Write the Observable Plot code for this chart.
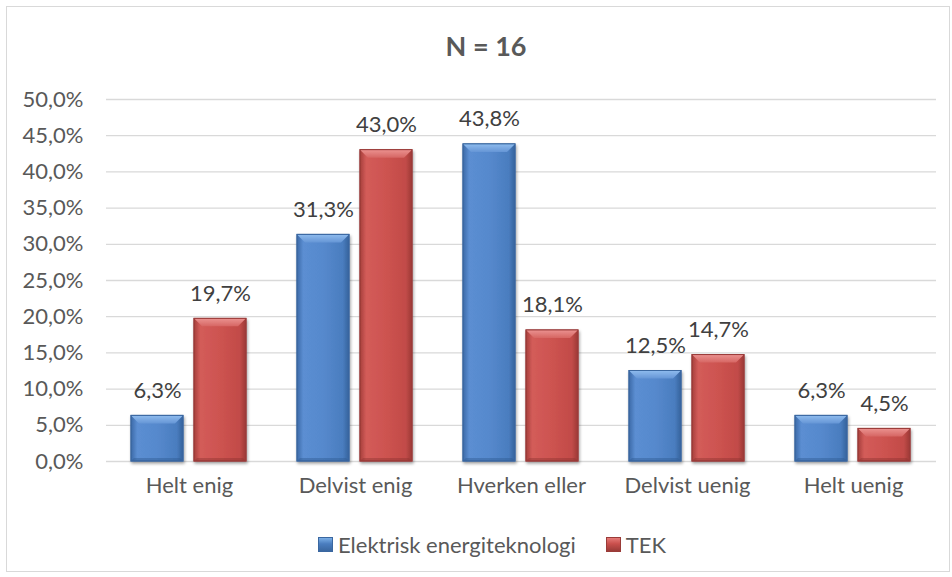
<!DOCTYPE html>
<html>
<head>
<meta charset="utf-8">
<script src="https://cdn.jsdelivr.net/npm/d3@7"></script>
<script src="https://cdn.jsdelivr.net/npm/@observablehq/plot@0.6"></script>
<style>
  body { margin: 0; background: #fff; }
  #wrap { position: relative; width: 952px; height: 577px; font-family: Lato, "Open Sans", sans-serif; color: #595959; overflow: hidden; }
  #frame { position: absolute; left: 6px; top: 6px; width: 944px; height: 566px; border: 1.5px solid #d9d9d9; box-sizing: border-box; }
  #title { position: absolute; left: 0; width: 972px; top: 29px; text-align: center; font-weight: bold; font-size: 27px; color: #595959; }
  #plot { position: absolute; left: 0; top: 0; }
  #legend { position: absolute; top: 531px; left: 318px; display: flex; align-items: center; font-size: 22px; color: #595959; }
  .sw { display: inline-block; width: 13px; height: 13px; margin-right: 5px; }
  .item { display: flex; align-items: center; margin-right: 30px; }
</style>
</head>
<body>
<div id="wrap">
  <div id="frame"></div>
  <div id="title">N = 16</div>
  <div id="plot"></div>
  <div id="legend"></div>
</div>
<script>
const categories = ["Helt enig", "Delvist enig", "Hverken eller", "Delvist uenig", "Helt uenig"];
const series = ["Elektrisk energiteknologi", "TEK"];
const elektriskValues = [6.3, 31.3, 43.8, 12.5, 6.3];
const tekValues = [19.7, 43.0, 18.1, 14.7, 4.5];
const yTicks = [0, 5, 10, 15, 20, 25, 30, 35, 40, 45, 50];
const seriesFills = ["url(#gBlue)", "url(#gRed)"];
const seriesStrokes = ["#3a67a0", "#9a3b38"];
const bevelTop = ["url(#tBlue)", "url(#tRed)"];
const bevelBottom = ["#2f5a92", "#8e3431"];

const data = [];
categories.forEach((c, i) => {
  data.push({category: c, series: series[0], value: elektriskValues[i]});
  data.push({category: c, series: series[1], value: tekValues[i]});
});

const fmt = v => v.toFixed(1).replace(".", ",") + "%";

const chart = Plot.plot({
  width: 952,
  height: 500,
  marginTop: 99,
  marginBottom: 39,
  marginLeft: 105,
  marginRight: 15,
  style: {fontFamily: "Lato, 'Open Sans', sans-serif", fontSize: "22px", color: "#595959", background: "transparent", overflow: "visible"},
  fx: {domain: categories, padding: 0, label: null, axis: "bottom", tickSize: 0, tickPadding: 16},
  x: {domain: series, paddingInner: 0.172, paddingOuter: 0.383, axis: null},
  y: {domain: [0, 50], ticks: yTicks, tickFormat: fmt, tickSize: 0, tickPadding: 23, label: null},
  marks: [
    Plot.ruleY(yTicks, {stroke: "#d9d9d9", strokeWidth: 1.3}),
    ...series.map((s, k) => Plot.barY(data.filter(d => d.series === s), {
      fx: "category", x: "series", y: "value",
      fill: seriesFills[k], stroke: seriesStrokes[k], strokeWidth: 1
    })),
    Plot.text(data, {fx: "category", x: "series", y: "value", text: d => fmt(d.value), dy: -18, lineAnchor: "bottom", fill: "#404040", fontSize: 22})
  ]
});

const defs = `
<defs>
  <linearGradient id="gBlue" x1="0" x2="1" y1="0" y2="0">
    <stop offset="0" stop-color="#3c6aa8"/>
    <stop offset="0.12" stop-color="#5b8ed2"/>
    <stop offset="0.5" stop-color="#5689cd"/>
    <stop offset="0.88" stop-color="#4a7dbf"/>
    <stop offset="1" stop-color="#36639c"/>
  </linearGradient>
  <linearGradient id="gRed" x1="0" x2="1" y1="0" y2="0">
    <stop offset="0" stop-color="#a63f3c"/>
    <stop offset="0.12" stop-color="#d35c59"/>
    <stop offset="0.5" stop-color="#cd5350"/>
    <stop offset="0.88" stop-color="#c24b48"/>
    <stop offset="1" stop-color="#9c3a37"/>
  </linearGradient>
  <linearGradient id="tBlue" x1="0" x2="0" y1="0" y2="1">
    <stop offset="0" stop-color="#8fbcee"/>
    <stop offset="1" stop-color="#6696d6"/>
  </linearGradient>
  <linearGradient id="tRed" x1="0" x2="0" y1="0" y2="1">
    <stop offset="0" stop-color="#eb9290"/>
    <stop offset="1" stop-color="#d66663"/>
  </linearGradient>
  <filter id="shadow" x="-20%" y="-20%" width="140%" height="140%">
    <feDropShadow dx="1" dy="2" stdDeviation="1.5" flood-color="#000" flood-opacity="0.35"/>
  </filter>
</defs>`;
chart.insertAdjacentHTML("afterbegin", defs);
document.getElementById("plot").appendChild(chart);

// bevel decoration derived from the rendered bar rects
const ns = "http://www.w3.org/2000/svg";
chart.querySelectorAll("rect").forEach(r => {
  const holder = r.closest("[fill]");
  if (!holder) return;
  const k = seriesFills.indexOf(holder.getAttribute("fill"));
  if (k < 0) return;
  const g = r.parentNode;
  g.setAttribute("filter", "url(#shadow)");
  const bb = r.getBBox();
  const x = bb.x, y = bb.y, w = bb.width, h = bb.height;
  const b = Math.min(8, h / 2);
  const c = Math.min(3, h / 4);
  const top = document.createElementNS(ns, "polygon");
  top.setAttribute("points", `${x},${y} ${x + w},${y} ${x + w - b},${y + b} ${x + b},${y + b}`);
  top.setAttribute("fill", bevelTop[k]);
  top.setAttribute("stroke", "none");
  const bot = document.createElementNS(ns, "polygon");
  bot.setAttribute("points", `${x},${y + h} ${x + w},${y + h} ${x + w - c},${y + h - c} ${x + c},${y + h - c}`);
  bot.setAttribute("fill", bevelBottom[k]);
  bot.setAttribute("fill-opacity", "0.45");
  bot.setAttribute("stroke", "none");
  const outline = document.createElementNS(ns, "rect");
  ["x", "y", "width", "height"].forEach(a => outline.setAttribute(a, bb[a]));
  outline.setAttribute("fill", "none");
  outline.setAttribute("stroke", seriesStrokes[k]);
  r.after(top, bot, outline);
});

const legend = document.getElementById("legend");
series.forEach((s, k) => {
  const item = document.createElement("div");
  item.className = "item";
  const grad = k === 0 ? "linear-gradient(180deg,#7aaee6,#4a7dbf 45%,#3a67a0)" : "linear-gradient(180deg,#e57a77,#c94f4c 45%,#9a3b38)";
  item.innerHTML = `<span class="sw" style="background:${grad};border:1px solid ${seriesStrokes[k]}"></span><span>${s}</span>`;
  legend.appendChild(item);
});
</script>
</body>
</html>
